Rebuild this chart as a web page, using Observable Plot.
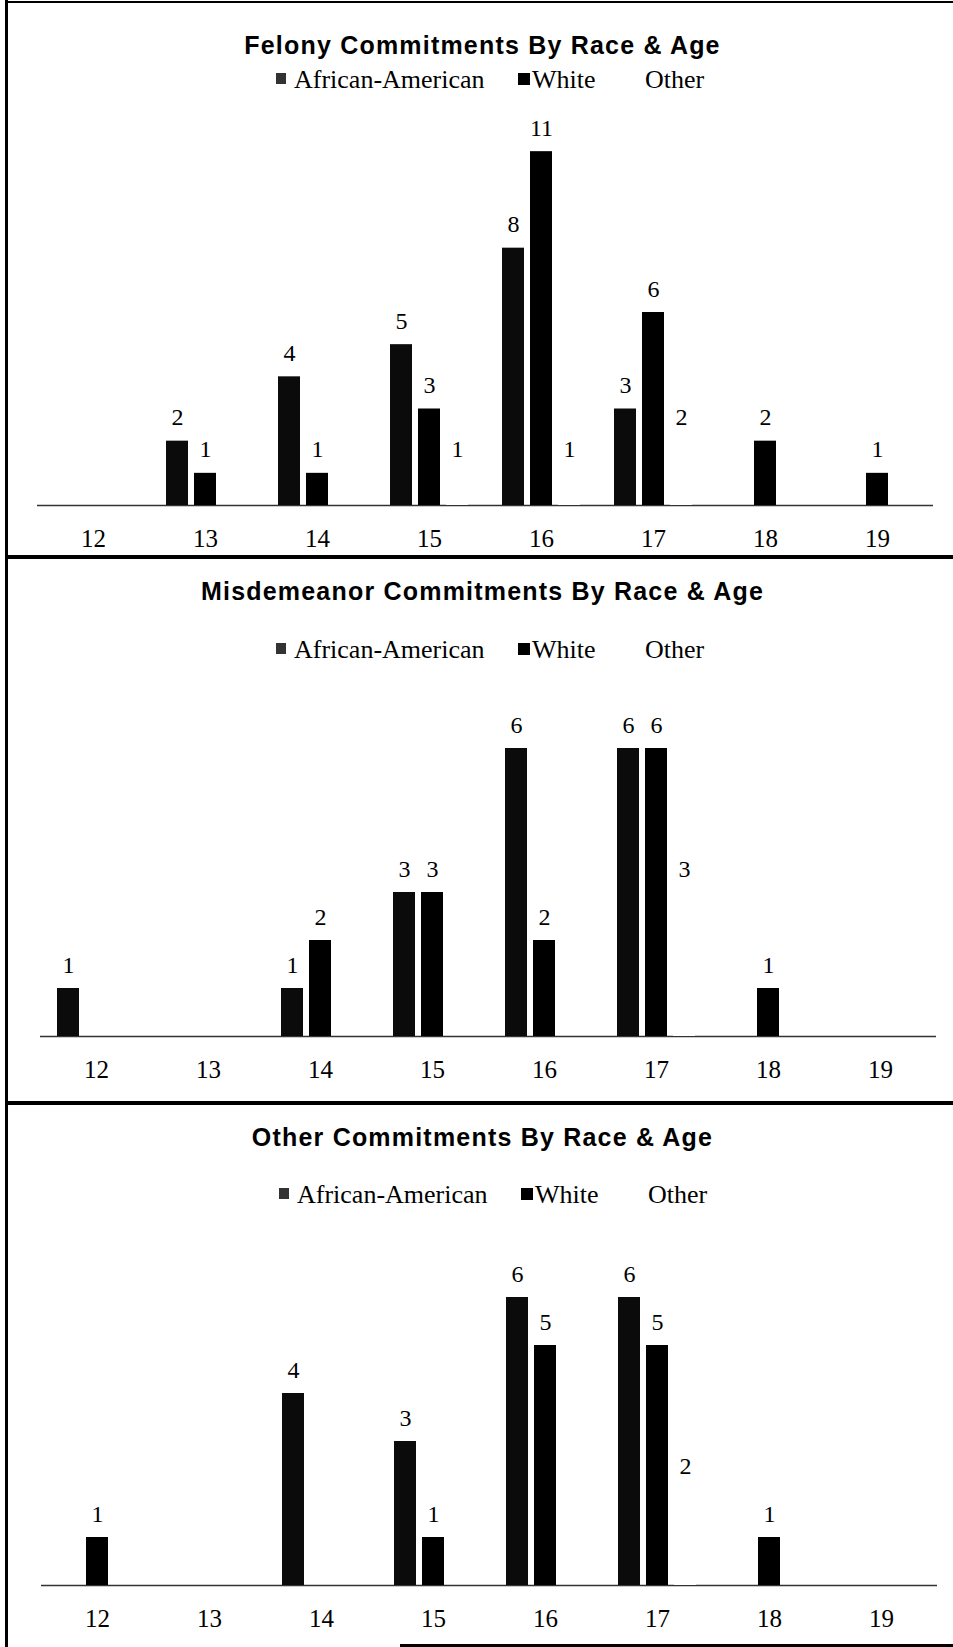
<!DOCTYPE html>
<html>
<head>
<meta charset="utf-8">
<script src="https://cdn.jsdelivr.net/npm/d3@7"></script>
<script src="https://cdn.jsdelivr.net/npm/@observablehq/plot@0.6"></script>
<style>
  html, body { margin: 0; padding: 0; background: #fff; }
  #page { position: relative; width: 953px; height: 1647px; overflow: hidden; background: #fff; }
  .title { position: absolute; left: 0; width: 965px; text-align: center; font-family: "Liberation Sans", Arial, sans-serif; font-weight: bold; font-size: 25px; letter-spacing: 1.2px; line-height: 25px; color: #000; white-space: nowrap; }
  .leg { position: absolute; font-family: "Liberation Serif", "Times New Roman", serif; font-size: 26px; line-height: 26px; color: #000; white-space: nowrap; }
  .sw { position: absolute; width: 12px; height: 12px; }
  .line { position: absolute; background: #000; }
  .chart { position: absolute; left: 0; }
  .chart text, .chart tspan { font-family: "Liberation Serif", "Times New Roman", serif !important; }
</style>
</head>
<body>
<div id="page"></div>
<script>
// ---- Data ----
const ages = ["12", "13", "14", "15", "16", "17", "18", "19"];
const races = ["African-American", "White", "Other"];

const felonyTitle = "Felony Commitments By Race & Age";
const felonyAA    = [0, 2, 4, 5, 8, 3, 0, 0];
const felonyWhite = [0, 1, 1, 3, 11, 6, 2, 1];
const felonyOther = [0, 0, 0, 1, 1, 2, 0, 0];

const misdTitle = "Misdemeanor Commitments By Race & Age";
const misdAA    = [1, 0, 1, 3, 6, 6, 0, 0];
const misdWhite = [0, 0, 2, 3, 2, 6, 1, 0];
const misdOther = [0, 0, 0, 0, 0, 3, 0, 0];

const otherTitle = "Other Commitments By Race & Age";
const otherAA    = [0, 0, 4, 3, 6, 6, 0, 0];
const otherWhite = [1, 0, 0, 1, 5, 5, 1, 0];
const otherOther = [0, 0, 0, 0, 0, 2, 0, 0];

const raceColors = ["#0b0b0b", "#000000", "#ffffff"];

// ---- Layout helpers ----
const page = document.getElementById("page");
function el(cls, style, text) {
  const d = document.createElement("div");
  d.className = cls;
  Object.assign(d.style, style);
  if (text != null) d.textContent = text;
  page.appendChild(d);
  return d;
}

function rows(aa, wh, ot) {
  const out = [];
  ages.forEach((a, i) => {
    [aa, wh, ot].forEach((arr, j) => {
      if (arr[i] > 0) out.push({age: a, race: races[j], value: arr[i]});
    });
  });
  return out;
}

function panel(cfg) {
  // title
  el("title", {top: (cfg.titleBase - 21) + "px"}, cfg.title);
  // legend
  const lb = cfg.legendBase, dx = cfg.legendDx;
  el("sw", {left: (276 + dx) + "px", top: (lb - 16) + "px", width: "10px", height: "11px", background: "#333"});
  el("leg", {left: (294 + dx) + "px", top: (lb - 22) + "px"}, races[0]);
  el("sw", {left: (518 + dx) + "px", top: (lb - 16) + "px", background: "#000"});
  el("leg", {left: (532 + dx) + "px", top: (lb - 22) + "px"}, races[1]);
  el("sw", {left: (630 + dx) + "px", top: (lb - 16) + "px", background: "#fff"});
  el("leg", {left: (645 + dx) + "px", top: (lb - 22) + "px"}, races[2]);

  const data = rows(cfg.aa, cfg.wh, cfg.ot);
  const serif = "Liberation Serif, Times New Roman, serif";
  const chart = Plot.plot({
    width: 953,
    height: cfg.height,
    marginLeft: cfg.ml,
    marginRight: cfg.mr,
    marginTop: cfg.mt,
    marginBottom: cfg.mb,
    style: {fontFamily: serif, fontSize: "25px", color: "#000", background: "transparent"},
    fx: {domain: ages, padding: 0, axis: "bottom", label: null, tickSize: 0, tickPadding: 24},
    x: {domain: races, axis: null, paddingInner: 0.2143, paddingOuter: 0.607},
    y: {domain: [0, cfg.ymax], axis: null},
    color: {domain: races, range: raceColors},
    marks: [
      Plot.ruleY(ages, {fx: d => d, y: 0, stroke: "#333", strokeWidth: 1.6}),
      Plot.barY(data, {fx: "age", x: "race", y: "value", fill: "race"}),
      Plot.text(data, {fx: "age", x: "race", y: "value", text: d => String(d.value), lineAnchor: "bottom", dy: -16, fontSize: 24, fontFamily: serif, fill: "#000"})
    ]
  });
  chart.classList.add("chart");
  chart.style.top = cfg.top + "px";
  page.appendChild(chart);
}

panel({title: felonyTitle, aa: felonyAA, wh: felonyWhite, ot: felonyOther,
  titleBase: 54, legendBase: 89, legendDx: 0,
  top: 95, height: 460, ml: 37, mr: 20, mt: 24, mb: 50, ymax: 12});

panel({title: misdTitle, aa: misdAA, wh: misdWhite, ot: misdOther,
  titleBase: 600, legendBase: 659, legendDx: 0,
  top: 665, height: 435, ml: 39, mr: 17, mt: 35, mb: 64, ymax: 7});

panel({title: otherTitle, aa: otherAA, wh: otherWhite, ot: otherOther,
  titleBase: 1146, legendBase: 1204, legendDx: 3,
  top: 1210, height: 430, ml: 40, mr: 16, mt: 39, mb: 55, ymax: 7});

// ---- Frame lines (scanned page border) ----
el("line", {left: "5px", top: "0px", width: "3px", height: "1647px"});
el("line", {left: "5px", top: "1px", width: "948px", height: "2px"});
el("line", {left: "5px", top: "555px", width: "948px", height: "4px"});
el("line", {left: "5px", top: "1101px", width: "948px", height: "4px"});
el("line", {left: "400px", top: "1644px", width: "553px", height: "3px"});
</script>
</body>
</html>
